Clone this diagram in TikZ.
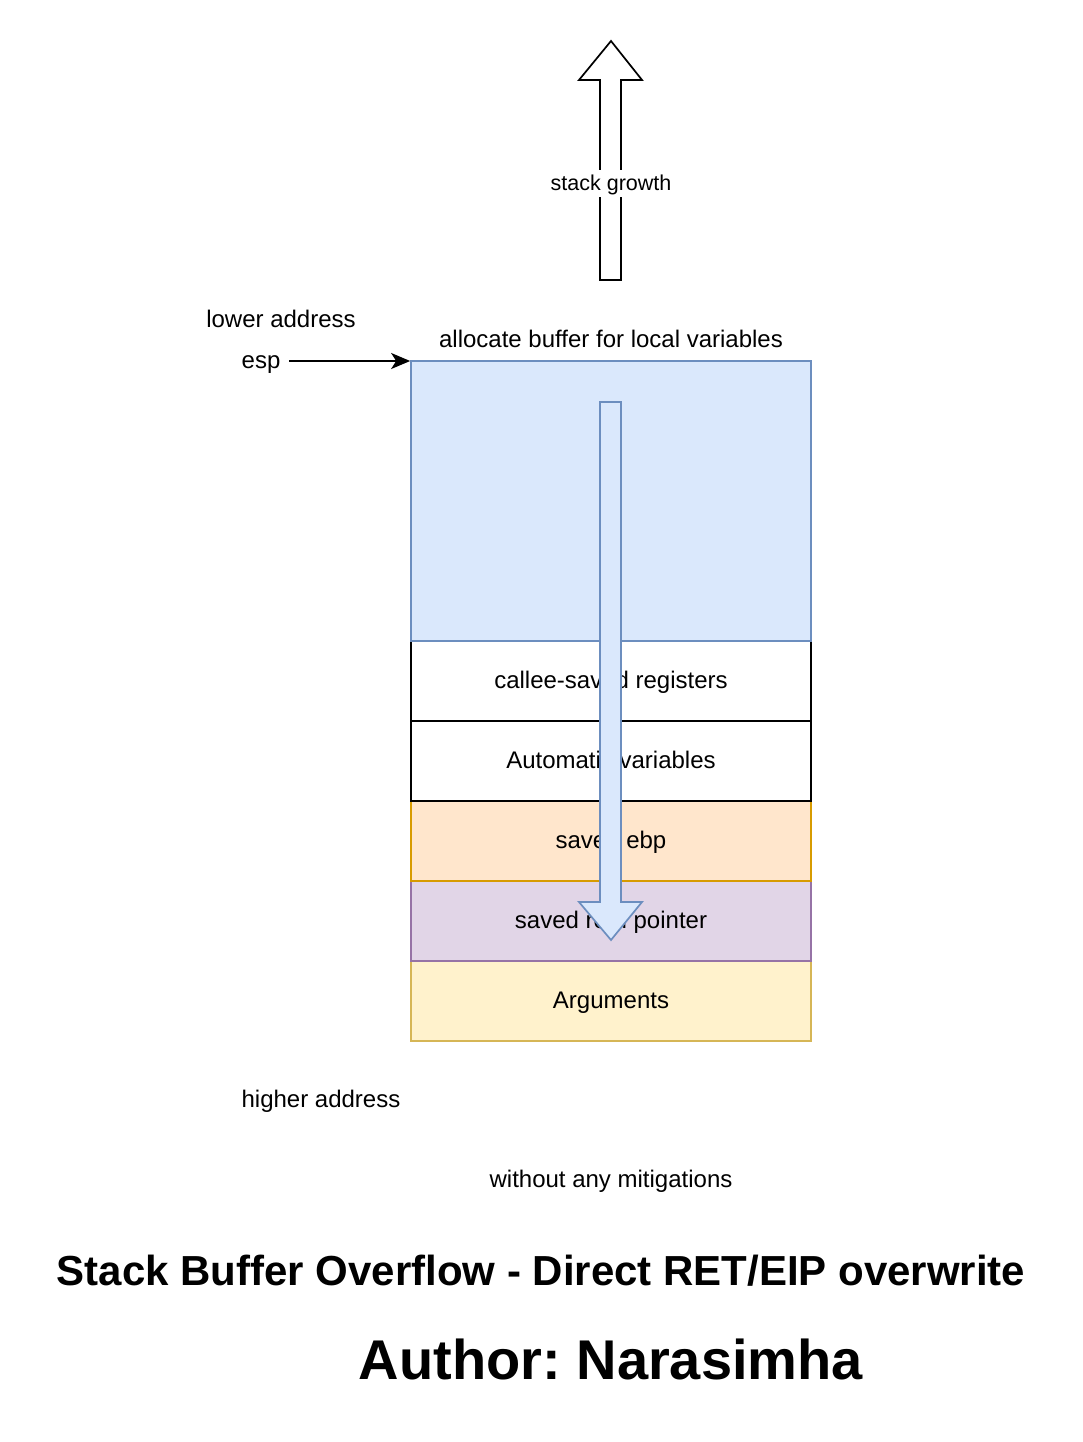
\documentclass[tikz,border=0pt]{standalone}
\usepackage{fontspec}
\setmainfont{Liberation Sans}
\frenchspacing
\usetikzlibrary{arrows.meta}
\definecolor{bluefill}{HTML}{DAE8FC}
\definecolor{bluestroke}{HTML}{6C8EBF}
\definecolor{orangefill}{HTML}{FFE6CC}
\definecolor{orangestroke}{HTML}{D79B00}
\definecolor{purplefill}{HTML}{E1D5E7}
\definecolor{purplestroke}{HTML}{9673A6}
\definecolor{yellowfill}{HTML}{FFF2CC}
\definecolor{yellowstroke}{HTML}{D6B656}
\begin{document}
\begin{tikzpicture}[x=1pt,y=-1pt,
  lbl/.style={inner sep=0pt, text height=14pt, text depth=0pt, font=\fontsize{24}{28}\selectfont},
  cell/.style={lbl, draw, line width=1.7pt, minimum width=400pt, minimum height=80pt},
  blockarrow/.style={line width=1.7pt, line join=miter},
  title/.style={inner sep=0pt, text height=28pt, text depth=0pt, font=\bfseries\fontsize{42}{48}\selectfont},
  author/.style={inner sep=0pt, text height=36pt, text depth=0pt, font=\bfseries\fontsize{56}{64}\selectfont}
]
\fill[white] (0,0) rectangle (1082,1442);
\useasboundingbox (0,0) rectangle (1082,1442);

% stack cells (drawing order sets which border shows on shared edges)
\node[cell, fill=yellowfill, draw=yellowstroke] (args) at (611,1001) {Arguments};
\node[cell, fill=purplefill, draw=purplestroke] (ret) at (611,921) {saved retn pointer};
\node[cell, fill=orangefill, draw=orangestroke] (ebp) at (611,841) {saved ebp};
\node[cell, fill=white, draw=black] (callee) at (611,681) {callee-saved registers};
\node[cell, fill=white, draw=black] (auto) at (611,761) {Automatic variables};
\node[cell, fill=bluefill, draw=bluestroke, minimum height=280pt] (buf) at (611,501) {};

% overflow arrow (down)
\draw[blockarrow, fill=bluefill, draw=bluestroke]
  (600,402) -- (621,402) -- (621,902) -- (642,902) -- (611,940) -- (579,902) -- (600,902) -- cycle;

% stack growth arrow (up)
\draw[blockarrow, fill=white, draw=black]
  (600,280) -- (621,280) -- (621,80) -- (642,80) -- (611,41) -- (579,80) -- (600,80) -- cycle;
\node[anchor=base, inner sep=0pt, fill=white, text height=20pt, text depth=7pt,
  font=\fontsize{21.5}{26}\selectfont] (growth) at (611,190) {stack growth};

% labels
\node[lbl] (lower) at (281,320) {lower address};
\node[lbl] (alloc) at (611,340) {allocate buffer for local variables};
\node[lbl] (esp) at (261,361) {esp};
\coordinate (espstart) at (289,361);
\draw[line width=1.8pt, -{Stealth[length=19pt,width=16pt,inset=5pt]}] (espstart) -- (espstart -| buf.west);
\node[lbl] (higher) at (321,1100) {higher address};
\node[lbl] (mitig) at (611,1180) {without any mitigations};
\node[title] (ttl) at (541,1271) {Stack Buffer Overflow - Direct RET/EIP overwrite};
\node[author] (auth) at (611,1361) {Author: Narasimha};
\end{tikzpicture}
\end{document}
